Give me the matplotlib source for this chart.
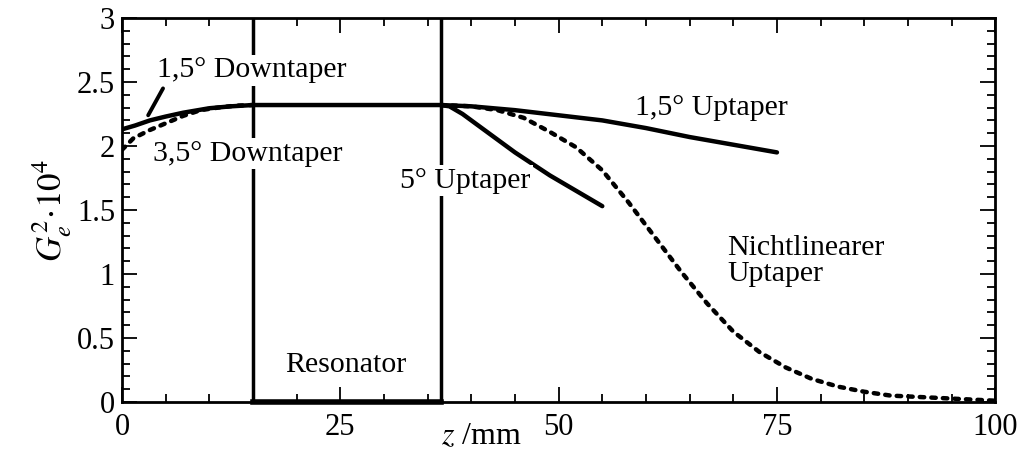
import matplotlib
matplotlib.use("Agg")
import matplotlib.pyplot as plt
import numpy as np

# Data
z_down15 = [0, 1.5, 3.2, 5, 7, 10, 12.5, 15, 20, 25, 30, 36.5]
g_down15 = [2.13, 2.16, 2.20, 2.23, 2.26, 2.295, 2.31, 2.32, 2.32, 2.32, 2.32, 2.32]

z_down35 = [0, 1.3, 3.2, 5.1, 7, 9, 11, 13, 15]
g_down35 = [1.97, 2.06, 2.125, 2.18, 2.235, 2.28, 2.30, 2.315, 2.32]

z_up15 = [36.5, 40, 45, 50, 55, 60, 65, 70, 75]
g_up15 = [2.32, 2.31, 2.28, 2.24, 2.20, 2.14, 2.07, 2.01, 1.95]

z_up5 = [36.5, 37.5, 39, 41, 43, 45, 47, 49, 51, 53, 55]
g_up5 = [2.32, 2.31, 2.25, 2.15, 2.05, 1.95, 1.86, 1.77, 1.69, 1.61, 1.53]

z_nl = [36.5, 40, 43, 46, 49, 52, 55, 58, 61, 64, 67, 70, 73, 76, 79, 82, 85, 88, 91, 94, 97, 100]
g_nl = [2.32, 2.31, 2.28, 2.22, 2.11, 1.99, 1.81, 1.56, 1.29, 1.02, 0.77, 0.55, 0.39, 0.27,
        0.18, 0.12, 0.08, 0.05, 0.04, 0.03, 0.02, 0.01]

resonator_start = 15
resonator_end = 36.5

x_ticks = [0, 25, 50, 75, 100]
y_ticks = [0, 0.5, 1, 1.5, 2, 2.5, 3]
y_ticklabels = ["0", "0.5", "1", "1.5", "2", "2.5", "3"]

plt.rcParams['font.family'] = ['Liberation Serif', 'DejaVu Serif']
plt.rcParams['mathtext.fontset'] = 'stix'

fig = plt.figure(figsize=(10.25, 4.5), dpi=100)
ax = fig.add_axes([0.119, 0.1067, 0.852, 0.8533])

lw = 3.2
dash = dict(linestyle=(0, (1.0, 1.6)), dash_capstyle='round')

ax.plot(z_down15, g_down15, color='black', lw=lw, solid_capstyle='round', zorder=3)
ax.plot(z_down35, g_down35, color='black', lw=lw, zorder=3, **dash)
ax.plot(z_up15, g_up15, color='black', lw=lw, solid_capstyle='round', zorder=3)
ax.plot(z_up5, g_up5, color='black', lw=lw, solid_capstyle='round', zorder=3)
ax.plot(z_nl, g_nl, color='black', lw=lw, zorder=3, **dash)

# Resonator box
ax.plot([resonator_start, resonator_start], [0, 3], color='black', lw=2.5, zorder=2)
ax.plot([resonator_end, resonator_end], [0, 3], color='black', lw=2.5, zorder=2)
ax.plot([resonator_start, resonator_end], [0, 0], color='black', lw=4, zorder=2, clip_on=False)

# Leader line
ax.plot([3.0, 4.7], [2.24, 2.45], color='black', lw=2.8, solid_capstyle='round', zorder=3)

fs = 21.5
bb = dict(facecolor='white', edgecolor='none', pad=2)
ax.text(4.0, 2.59, "1,5° Downtaper", fontsize=fs, ha='left', va='center', bbox=bb, zorder=4)
ax.text(3.6, 1.94, "3,5° Downtaper", fontsize=fs, ha='left', va='center', bbox=bb, zorder=4)
ax.text(31.8, 1.73, "5° Uptaper", fontsize=fs, ha='left', va='center', bbox=bb, zorder=4)
ax.text(58.8, 2.30, "1,5° Uptaper", fontsize=fs, ha='left', va='center', zorder=4)
ax.text(69.3, 1.10, "Nichtlinearer\nUptaper", fontsize=fs, ha='left', va='center',
        linespacing=1.0, zorder=4)
ax.text(18.7, 0.29, "Resonator", fontsize=fs, ha='left', va='center', zorder=4)

ax.set_xlim(0, 100)
ax.set_ylim(0, 3)
ax.set_xticks(x_ticks)
ax.set_xticks(np.arange(0, 101, 5), minor=True)
ax.set_yticks(y_ticks)
ax.set_yticklabels(y_ticklabels)
ax.set_yticks(np.arange(0, 3.01, 0.1), minor=True)

ax.tick_params(which='both', direction='in', top=True, right=True, labelsize=22, width=1.3)
ax.tick_params(which='major', length=11)
ax.tick_params(which='minor', length=6)
ax.tick_params(axis='x', pad=8)
ax.tick_params(axis='y', pad=5)
for s in ax.spines.values():
    s.set_linewidth(2)

ax.set_ylabel(r'$G_e^{2}\!\cdot\!10^4$', fontsize=25, labelpad=2)
ax.text(41.1, -0.16, r'$z$ /mm', fontsize=23, ha='center', va='top',
        transform=ax.transData, clip_on=False)

fig.savefig("out.png", dpi=100)
